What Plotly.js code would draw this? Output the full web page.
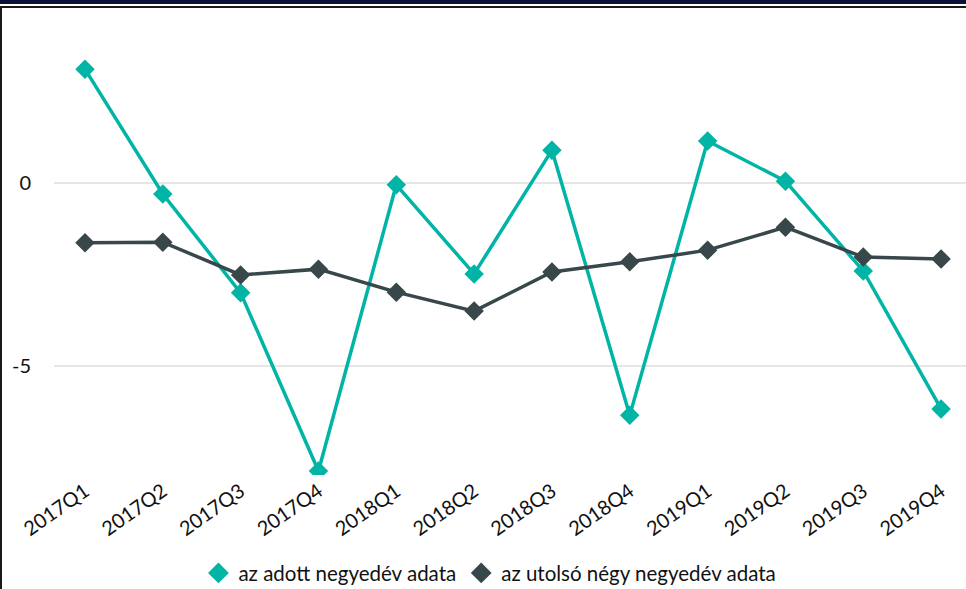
<!DOCTYPE html>
<html><head><meta charset="utf-8">
<script src="https://cdn.plot.ly/plotly-3.0.1.min.js"></script>
<style>
html,body{margin:0;padding:0;background:#fff;}
#wrap{position:relative;width:966px;height:589px;overflow:hidden;}
#chart{position:absolute;left:0;top:0;width:966px;height:589px;}
#topband{position:absolute;left:0;top:0;width:966px;height:4px;background:#0b1238;pointer-events:none;}
#topline{position:absolute;left:0;top:6px;width:966px;height:2px;background:#1a1a1a;pointer-events:none;}
#leftline{position:absolute;left:0;top:6px;width:2px;height:583px;background:#1a1a1a;pointer-events:none;}
</style></head>
<body>
<div id="wrap">
<div id="chart"></div>
<div id="topband"></div><div id="topline"></div><div id="leftline"></div>
</div>
<script>
const categories = ["2017Q1","2017Q2","2017Q3","2017Q4","2018Q1","2018Q2","2018Q3","2018Q4","2019Q1","2019Q2","2019Q3","2019Q4"];
const quarterData = [3.12,-0.30,-3.01,-7.89,-0.05,-2.49,0.90,-6.36,1.15,0.05,-2.41,-6.19];
const fourQuarterData = [-1.64,-1.62,-2.52,-2.36,-2.99,-3.51,-2.44,-2.16,-1.84,-1.21,-2.03,-2.08];
const seriesNames = ["az adott negyedév adata","az utolsó négy negyedév adata"];
const yTicks = [0,-5];

const teal = "#00b4a6", dark = "#37474a";
const xIdx = categories.map((c,i)=>i);

const traces = [
  {x:xIdx, y:quarterData, mode:"lines+markers", name:seriesNames[0], showlegend:false,
   line:{color:teal,width:3.5}, marker:{symbol:"diamond",size:15,color:teal}},
  {x:xIdx, y:fourQuarterData, mode:"lines+markers", name:seriesNames[1], showlegend:false,
   line:{color:dark,width:3.5}, marker:{symbol:"diamond",size:15,color:dark}},
  {x:[null], y:[null], mode:"markers", name:seriesNames[0], marker:{symbol:"diamond",size:17,color:teal}},
  {x:[null], y:[null], mode:"markers", name:seriesNames[1], marker:{symbol:"diamond",size:17,color:dark}}
];

const layout = {
  width:966, height:589,
  margin:{l:54, r:0, t:10, b:114, autoexpand:false},
  paper_bgcolor:"#fff", plot_bgcolor:"#fff",
  font:{family:"Lato, 'Open Sans', sans-serif", size:20, color:"#111"},
  xaxis:{range:[-0.398,11.32], tickvals:xIdx, ticktext:categories, tickangle:-35, automargin:false,
         showgrid:false, zeroline:false, showline:false, ticks:"", tickfont:{size:20}},
  yaxis:{range:[-8.0,4.74], tickvals:yTicks, ticktext:yTicks.map(String), showgrid:true, gridcolor:"#e6e6e6", gridwidth:2,
         automargin:false, zeroline:false, showline:false, ticks:"outside", ticklen:18, tickcolor:"rgba(0,0,0,0)", tickfont:{size:20}},
  showlegend:true,
  legend:{orientation:"h", x:0.478, xanchor:"center", y:-0.211, yanchor:"middle",
          font:{size:20.5}, itemwidth:30, traceorder:"normal"}
};
Plotly.newPlot("chart", traces, layout, {displayModeBar:false, staticPlot:true});
</script>
</body></html>
